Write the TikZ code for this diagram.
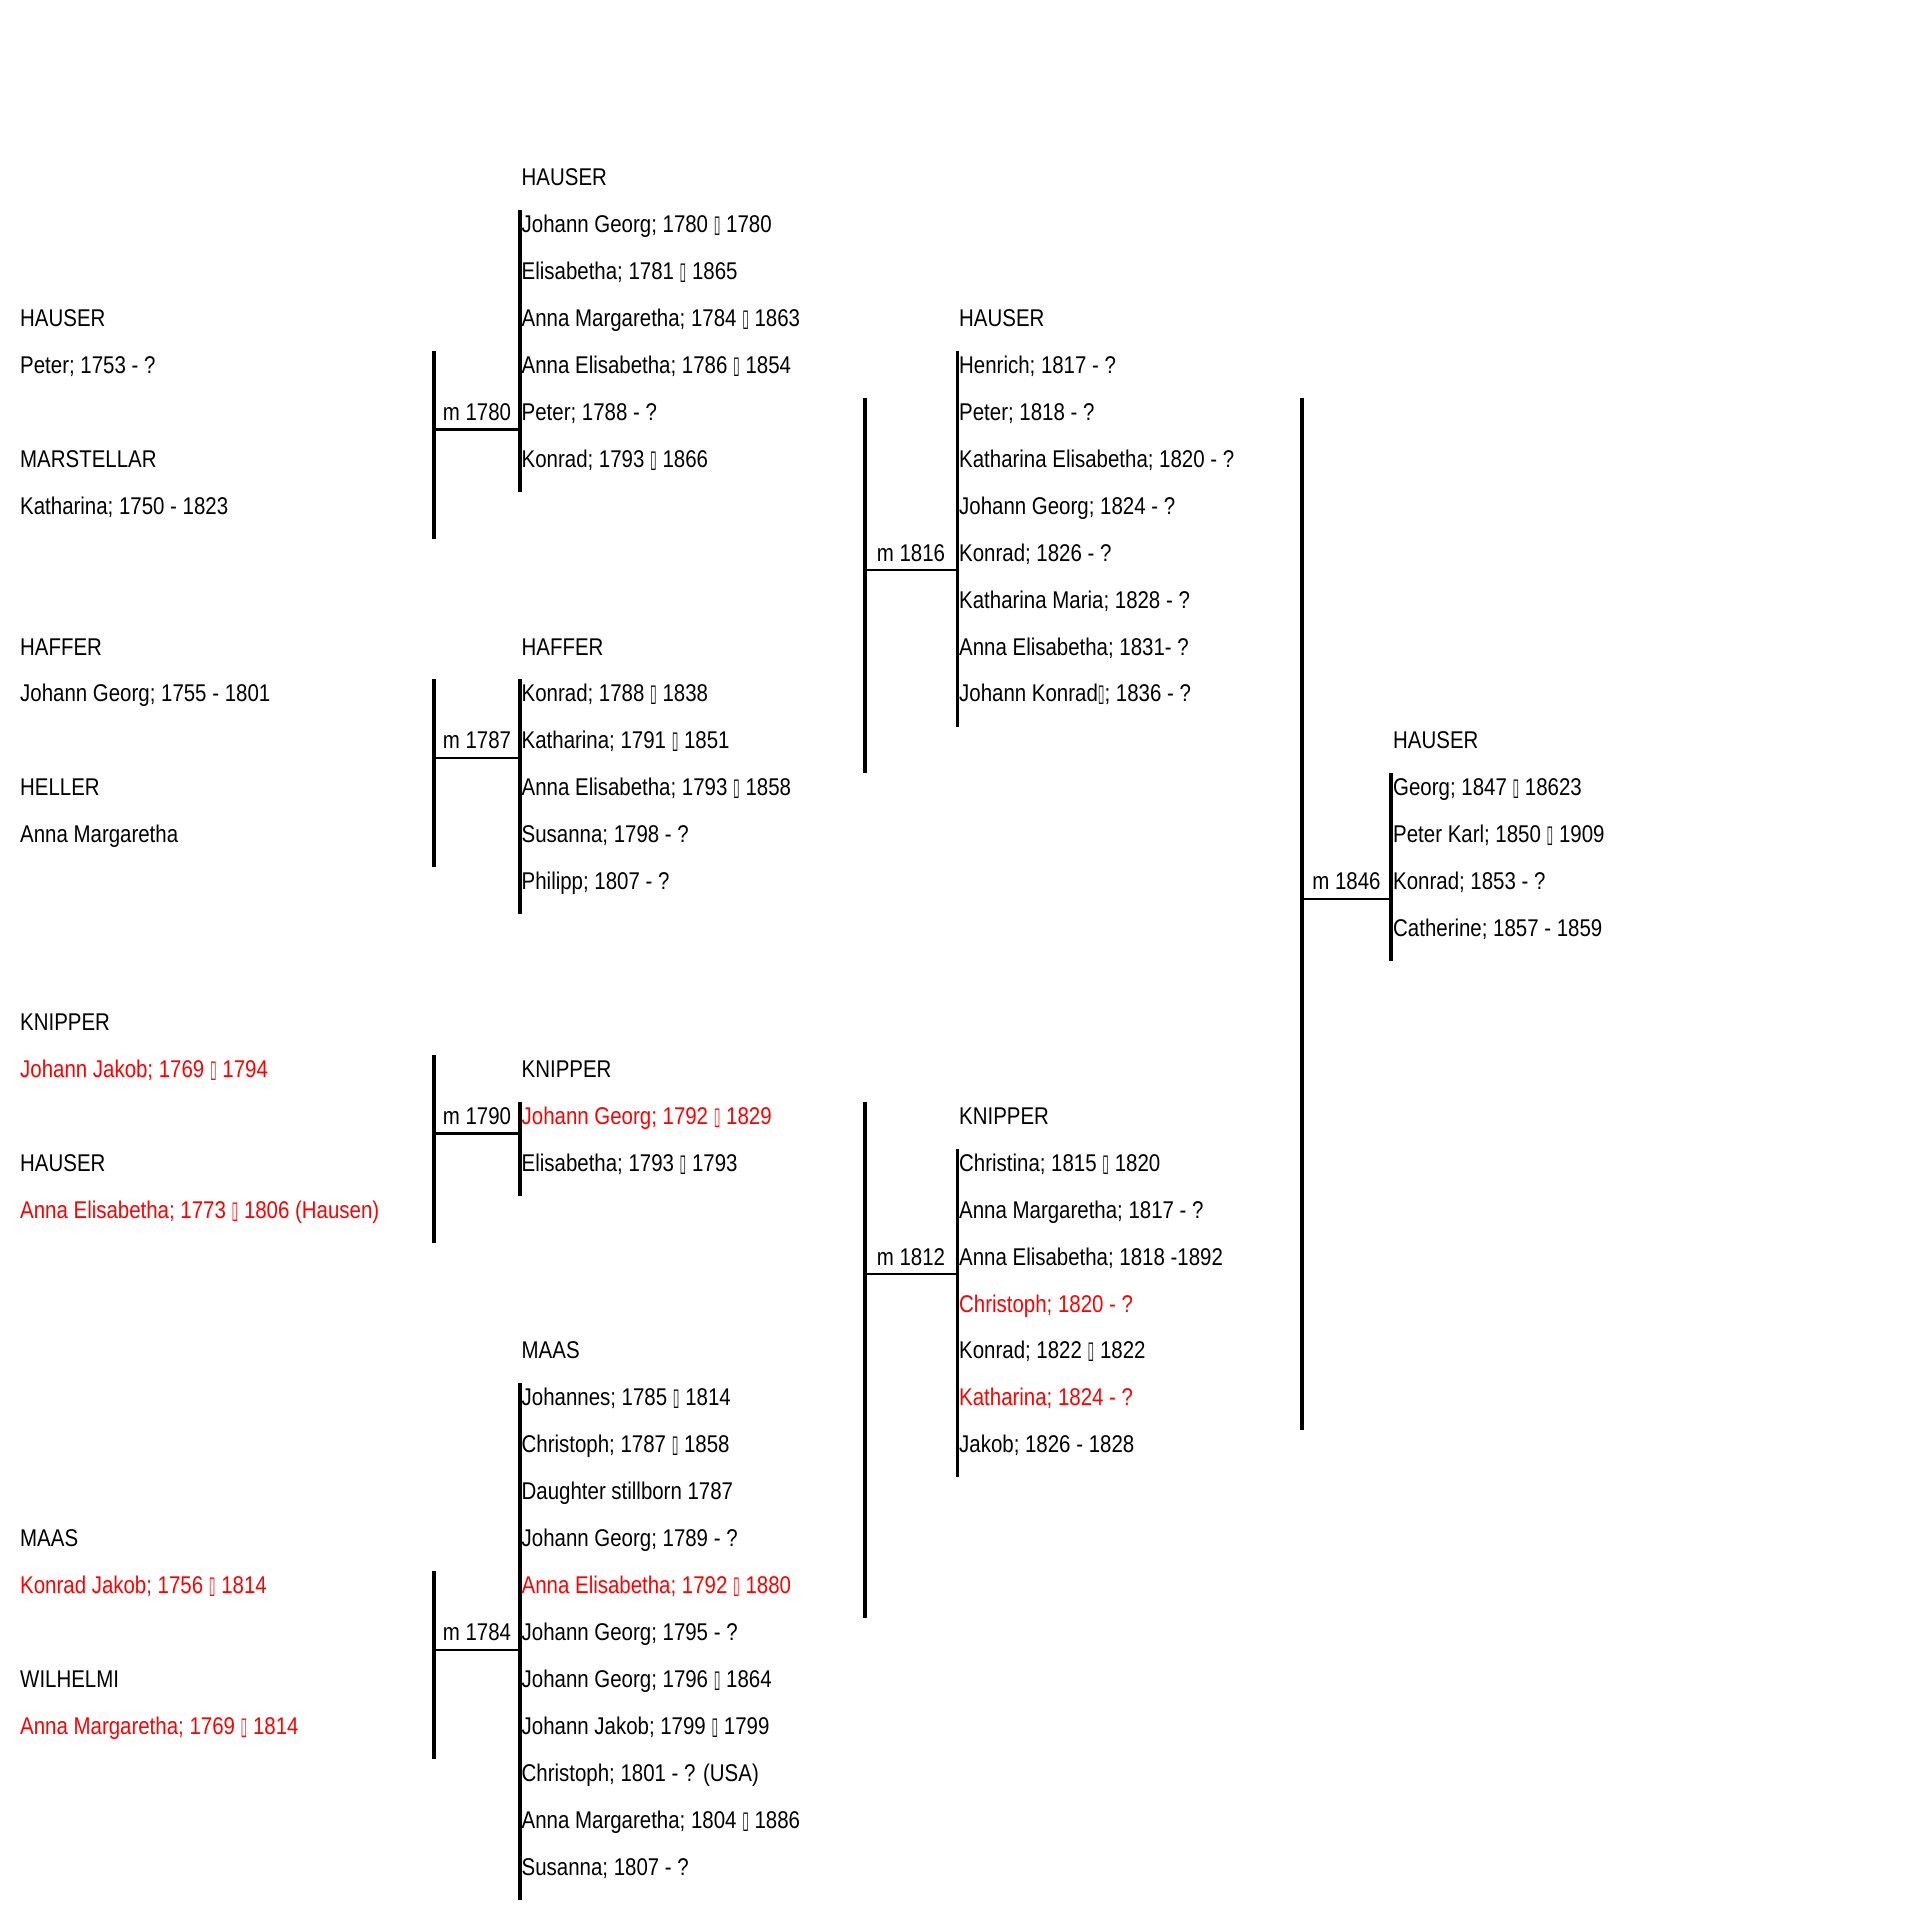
\documentclass[tikz,border=0pt]{standalone}
\usepackage{fontspec}
\setmainfont{Liberation Sans}[FakeStretch=0.845]
\newfontfamily\tofufont{DejaVu Sans}[FakeStretch=0.5]
\newcommand{\tofu}{{\tofufont ▯}}
\usepackage{tikz}

\begin{document}
\begin{tikzpicture}[x=1pt,y=-46.93pt,yshift=-185.7pt]
\tikzstyle{every node}+=[inner sep=0pt]
\tikzstyle{person}=[anchor=base west, text height=22.5pt, text depth=24.4pt, font=\fontsize{24.2}{29}\selectfont]
\tikzstyle{ancestor}=[person, text=red]
\tikzstyle{wed}=[anchor=base, text depth=9pt, font=\fontsize{24.2}{29}\selectfont]
\tikzstyle{stem}=[line width=3.2pt]
\tikzstyle{bar}=[line width=2.3pt]
\useasboundingbox (0,-3.957) rectangle (1920,36.913);
\coordinate (a) at (434,0);
\coordinate (aa) at (520,0);
\coordinate (b) at (865,0);
\coordinate (bb) at (957.5,0);
\coordinate (c) at (1302,0);
\coordinate (cc) at (1391,0);
\node[person] (hauser1) at (20,3) {HAUSER};
\node[person] (peter1753) at (20,4) {Peter; 1753 - ?};
\node[person] (marstellar) at (20,6) {MARSTELLAR};
\node[person] (katharina1750) at (20,7) {Katharina; 1750 - 1823};
\node[person] (haffer1) at (20,10) {HAFFER};
\node[person] (georg1755) at (20,11) {Johann Georg; 1755 - 1801};
\node[person] (heller) at (20,13) {HELLER};
\node[person] (margaretha0) at (20,14) {Anna Margaretha};
\node[person] (knipper1) at (20,18) {KNIPPER};
\node[ancestor] (jakob1769) at (20,19) {Johann Jakob; 1769 \tofu{} 1794};
\node[person] (hauser2) at (20,21) {HAUSER};
\node[ancestor] (elisabetha1773) at (20,22) {Anna Elisabetha; 1773 \tofu{} 1806 (Hausen)};
\node[person] (maas1) at (20,29) {MAAS};
\node[ancestor] (konrad1756) at (20,30) {Konrad Jakob; 1756 \tofu{} 1814};
\node[person] (wilhelmi) at (20,32) {WILHELMI};
\node[ancestor] (margaretha1769) at (20,33) {Anna Margaretha; 1769 \tofu{} 1814};
\node[person] (hauser3) at (521.5,0) {HAUSER};
\node[person] (georg1780) at (521.5,1) {Johann Georg; 1780 \tofu{} 1780};
\node[person] (elisabetha1781) at (521.5,2) {Elisabetha; 1781 \tofu{} 1865};
\node[person] (margaretha1784) at (521.5,3) {Anna Margaretha; 1784 \tofu{} 1863};
\node[person] (elisabetha1786) at (521.5,4) {Anna Elisabetha; 1786 \tofu{} 1854};
\node[person] (peter1788) at (521.5,5) {Peter; 1788 - ?};
\node[person] (konrad1793) at (521.5,6) {Konrad; 1793 \tofu{} 1866};
\node[person] (haffer2) at (521.5,10) {HAFFER};
\node[person] (konrad1788) at (521.5,11) {Konrad; 1788 \tofu{} 1838};
\node[person] (katharina1791) at (521.5,12) {Katharina; 1791 \tofu{} 1851};
\node[person] (annaelis1793) at (521.5,13) {Anna Elisabetha; 1793 \tofu{} 1858};
\node[person] (susanna1798) at (521.5,14) {Susanna; 1798 - ?};
\node[person] (philipp1807) at (521.5,15) {Philipp; 1807 - ?};
\node[person] (knipper2) at (521.5,19) {KNIPPER};
\node[ancestor] (georg1792) at (521.5,20) {Johann Georg; 1792 \tofu{} 1829};
\node[person] (elisabetha1793) at (521.5,21) {Elisabetha; 1793 \tofu{} 1793};
\node[person] (maas2) at (521.5,25) {MAAS};
\node[person] (johannes1785) at (521.5,26) {Johannes; 1785 \tofu{} 1814};
\node[person] (christoph1787) at (521.5,27) {Christoph; 1787 \tofu{} 1858};
\node[person] (daughter1787) at (521.5,28) {Daughter stillborn 1787};
\node[person] (georg1789) at (521.5,29) {Johann Georg; 1789 - ?};
\node[ancestor] (elisabetha1792) at (521.5,30) {Anna Elisabetha; 1792 \tofu{} 1880};
\node[person] (georg1795) at (521.5,31) {Johann Georg; 1795 - ?};
\node[person] (georg1796) at (521.5,32) {Johann Georg; 1796 \tofu{} 1864};
\node[person] (jakob1799) at (521.5,33) {Johann Jakob; 1799 \tofu{} 1799};
\node[person] (christoph1801) at (521.5,34) {Christoph; 1801 - ? (USA)};
\node[person] (margaretha1804) at (521.5,35) {Anna Margaretha; 1804 \tofu{} 1886};
\node[person] (susanna1807) at (521.5,36) {Susanna; 1807 - ?};
\node[person] (hauser4) at (959,3) {HAUSER};
\node[person] (henrich1817) at (959,4) {Henrich; 1817 - ?};
\node[person] (peter1818) at (959,5) {Peter; 1818 - ?};
\node[person] (katharina1820) at (959,6) {Katharina Elisabetha; 1820 - ?};
\node[person] (georg1824) at (959,7) {Johann Georg; 1824 - ?};
\node[person] (konrad1826) at (959,8) {Konrad; 1826 - ?};
\node[person] (maria1828) at (959,9) {Katharina Maria; 1828 - ?};
\node[person] (elisabetha1831) at (959,10) {Anna Elisabetha; 1831- ?};
\node[person] (konrad1836) at (959,11) {Johann Konrad\tofu; 1836 - ?};
\node[person] (knipper3) at (959,20) {KNIPPER};
\node[person] (christina1815) at (959,21) {Christina; 1815 \tofu{} 1820};
\node[person] (margaretha1817) at (959,22) {Anna Margaretha; 1817 - ?};
\node[person] (elisabetha1818) at (959,23) {Anna Elisabetha; 1818 -1892};
\node[ancestor] (christoph1820) at (959,24) {Christoph; 1820 - ?};
\node[person] (konrad1822) at (959,25) {Konrad; 1822 \tofu{} 1822};
\node[ancestor] (katharina1824) at (959,26) {Katharina; 1824 - ?};
\node[person] (jakob1826) at (959,27) {Jakob; 1826 - 1828};
\node[person] (hauser5) at (1393,12) {HAUSER};
\node[person] (georg1847) at (1393,13) {Georg; 1847 \tofu{} 18623};
\node[person] (karl1850) at (1393,14) {Peter Karl; 1850 \tofu{} 1909};
\node[person] (konrad1853) at (1393,15) {Konrad; 1853 - ?};
\node[person] (catherine1857) at (1393,16) {Catherine; 1857 - 1859};
\node[wed] (m1780) at (477,5) {m 1780};
\node[wed] (m1787) at (477,12) {m 1787};
\node[wed] (m1790) at (477,20) {m 1790};
\node[wed] (m1784) at (477,31) {m 1784};
\node[wed] (m1816) at (911,8) {m 1816};
\node[wed] (m1812) at (911,23) {m 1812};
\node[wed] (m1846) at (1346.5,15) {m 1846};
\draw[stem] (a |- peter1753.north) -- (a |- katharina1750.south);
\draw[bar] (a |- m1780.south) -- (aa |- m1780.south);
\draw[stem] (aa |- georg1780.north) -- (aa |- konrad1793.south);
\draw[stem] (a |- georg1755.north) -- (a |- margaretha0.south);
\draw[bar] (a |- m1787.south) -- (aa |- m1787.south);
\draw[stem] (aa |- konrad1788.north) -- (aa |- philipp1807.south);
\draw[stem] (a |- jakob1769.north) -- (a |- elisabetha1773.south);
\draw[bar] (a |- m1790.south) -- (aa |- m1790.south);
\draw[stem] (aa |- georg1792.north) -- (aa |- elisabetha1793.south);
\draw[stem] (a |- konrad1756.north) -- (a |- margaretha1769.south);
\draw[bar] (a |- m1784.south) -- (aa |- m1784.south);
\draw[stem] (aa |- johannes1785.north) -- (aa |- susanna1807.south);
\draw[stem] (b |- peter1788.north) -- (b |- katharina1791.south);
\draw[bar] (b |- m1816.south) -- (bb |- m1816.south);
\draw[stem] (bb |- henrich1817.north) -- (bb |- konrad1836.south);
\draw[stem] (b |- georg1792.north) -- (b |- elisabetha1792.south);
\draw[bar] (b |- m1812.south) -- (bb |- m1812.south);
\draw[stem] (bb |- christina1815.north) -- (bb |- jakob1826.south);
\draw[stem] (c |- peter1818.north) -- (c |- katharina1824.south);
\draw[bar] (c |- m1846.south) -- (cc |- m1846.south);
\draw[stem] (cc |- georg1847.north) -- (cc |- catherine1857.south);
\end{tikzpicture}
\end{document}
